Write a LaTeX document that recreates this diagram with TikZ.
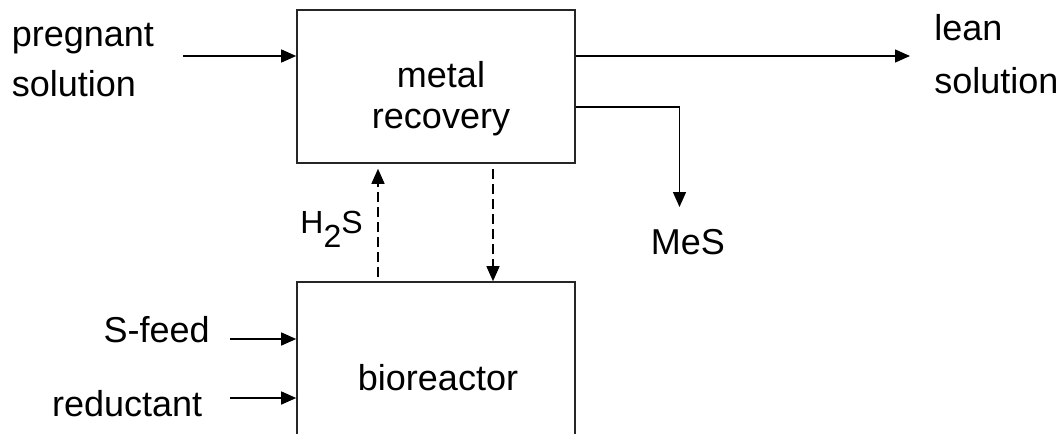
\documentclass[tikz,border=0pt]{standalone}
\usepackage{fontspec}
\setmainfont{Liberation Sans}
\usetikzlibrary{arrows.meta}
\begin{document}
\begin{tikzpicture}[x=0.5pt,y=-0.5pt,
  box/.style={draw=black!85, line width=0.8pt, minimum width=139pt, inner sep=0pt},
  lbl/.style={inner sep=0pt, text=black},
  flow/.style={line width=0.7pt, draw=black, -{Triangle[length=7.5pt,width=6.5pt]}},
  dflow/.style={flow, dash pattern=on 5pt off 2.5pt}]
\useasboundingbox (0,0) rectangle (1062,434);
\clip (0,0) rectangle (1062,434);
% boxes
\node[box, minimum height=76.5pt] (mr) at (436,86.5) {};
\node[box, minimum height=100pt] (bio) at (436,382) {};
% labels (multi-line nodes: base anchor is the last line's baseline)
\node[lbl, align=center, anchor=base, font=\fontsize{18}{20.5}\selectfont] (mrtext) at (441,128) {metal\\recovery};
\node[lbl, anchor=base, font=\fontsize{18}{21}\selectfont] (biotext) at (438,390) {bioreactor};
\node[lbl, align=left, anchor=base west, font=\fontsize{18}{25}\selectfont] (preg) at (11.5,96.7) {pregnant\\solution};
\node[lbl, align=left, anchor=base west, font=\fontsize{18}{26.5}\selectfont] (lean) at (934,93.7) {lean\\solution};
\node[lbl, anchor=base, font=\fontsize{18}{21}\selectfont] (mes) at (688,254) {MeS};
\node[lbl, anchor=base west, font=\fontsize{16}{19}\selectfont] (h2s) at (300,233) {H\raisebox{-7pt}{2}S};
\node[lbl, anchor=base east, font=\fontsize{18}{21}\selectfont] (sfeed) at (210,342) {S-feed};
\node[lbl, anchor=base west, font=\fontsize{18}{21}\selectfont] (red) at (51.7,416) {reductant};
% coordinates for free ends
\coordinate (pin) at (183,56);
\coordinate (leanend) at (910,56);
\coordinate (mesturn) at (679.5,107);
\coordinate (mesend) at (679.5,207);
\coordinate (sfin) at (230,339);
\coordinate (redin) at (230,398);
\coordinate (upx) at (378,0);
\coordinate (downx) at (493,0);
% connectors
\draw[flow] (pin) -- (pin -| mr.west);
\draw[flow] (leanend -| mr.east) -- (leanend);
\draw[flow] (mesturn -| mr.east) -- (mesturn) -- (mesend);
\draw[flow] (sfin) -- (sfin -| bio.west);
\draw[flow] (redin) -- (redin -| bio.west);
\draw[dflow] ([yshift=2pt]bio.north -| upx) -- ([yshift=-2.5pt]mr.south -| upx);
\draw[dflow] ([yshift=-2.5pt]mr.south -| downx) -- (bio.north -| downx);
\end{tikzpicture}
\end{document}
